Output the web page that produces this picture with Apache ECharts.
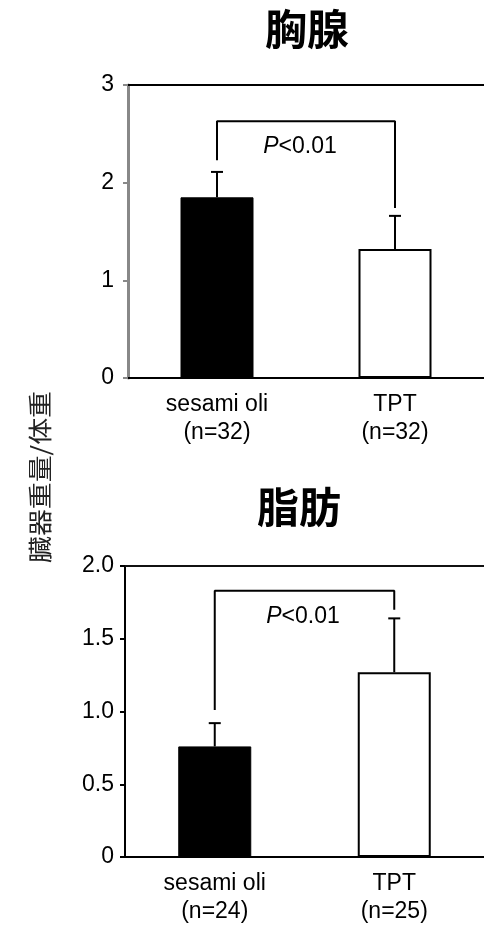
<!DOCTYPE html>
<html>
<head>
<meta charset="utf-8">
<script src="https://cdn.jsdelivr.net/npm/echarts@6/dist/echarts.min.js"></script>
<style>
html,body{margin:0;padding:0;background:#fff;}
#main{width:484px;height:929px;}
</style>
</head>
<body>
<div id="main"></div>
<script>
// ---- data ----
var categoriesThymus = ['sesami oli\n(n=32)', 'TPT\n(n=32)'];
var categoriesFat = ['sesami oli\n(n=24)', 'TPT\n(n=25)'];
var thymusMean = [1.85, 1.32];
var thymusSD = [0.26, 0.34];
var fatMean = [0.76, 1.27];
var fatSD = [0.16, 0.37];
// bracket: [left foot, top, right foot]
var thymusBracket = [2.23, 2.63, 1.74];
var fatBracket = [1.01, 1.83, 1.70];
var thymusTicks = ['0', '1', '2', '3'];
var fatTicks = ['0', '0.5', '1.0', '1.5', '2.0'];
var titles = ['胸腺', '脂肪'];
var yName = '臓器重量/体重';
var pText = 'P<0.01';

var FONT = '"Liberation Sans", Arial, sans-serif';
var CJK = '"Noto Sans CJK JP", sans-serif';
var FS = 23;

var chart = echarts.init(document.getElementById('main'), null, {renderer: 'canvas'});

function barData(vals) {
  return vals.map(function (v, i) {
    return i === 0
      ? {value: v, itemStyle: {color: '#000', borderColor: '#000', borderWidth: 1}}
      : {value: v, itemStyle: {color: '#fff', borderColor: '#000', borderWidth: 2}};
  });
}
function errData(mean, sd) {
  return mean.map(function (m, i) { return [i, m, sd[i]]; });
}
function bracketData(b) {
  return [[0, b[0]], [0, b[1]], [1, b[1]], [1, b[2]]];
}
function renderErr(params, api) {
  var x = api.value(0), m = api.value(1), s = api.value(2);
  var p0 = api.coord([x, m]);
  var p1 = api.coord([x, m + s]);
  var st = {stroke: '#000', lineWidth: 2};
  return {
    type: 'group',
    children: [
      {type: 'line', shape: {x1: p0[0], y1: p0[1], x2: p1[0], y2: p1[1]}, style: st},
      {type: 'line', shape: {x1: p1[0] - 6, y1: p1[1], x2: p1[0] + 6, y2: p1[1]}, style: st}
    ]
  };
}

var labelStyle = {color: '#000', fontFamily: FONT, fontSize: FS};

function topBorderAxis(gi, data, color) {
  return {type: 'category', gridIndex: gi, data: data, position: 'top',
    axisLine: {show: true, lineStyle: {color: color, width: 2}},
    axisTick: {show: false}, axisLabel: {show: false}, splitLine: {show: false}};
}

var option = {
  animation: false,
  backgroundColor: '#fff',
  grid: [
    {left: 128, top: 85, width: 363, height: 293},
    {left: 125, top: 566, width: 360, height: 291}
  ],
  xAxis: [
    {type: 'category', gridIndex: 0, data: categoriesThymus,
     axisLine: {show: true, lineStyle: {color: '#000', width: 2}},
     axisTick: {show: false},
     axisLabel: Object.assign({margin: 13, lineHeight: 28, interval: 0}, labelStyle)},
    {type: 'category', gridIndex: 1, data: categoriesFat,
     axisLine: {show: true, lineStyle: {color: '#000', width: 2}},
     axisTick: {show: false},
     axisLabel: Object.assign({margin: 13, lineHeight: 28, interval: 0}, labelStyle)},
    topBorderAxis(0, categoriesThymus, '#000'),
    topBorderAxis(1, categoriesFat, '#111')
  ],
  yAxis: [
    {type: 'value', gridIndex: 0, min: 0, max: 3, interval: 1,
     axisLine: {show: true, lineStyle: {color: '#888', width: 3}},
     axisTick: {show: true, length: 5, lineStyle: {color: '#888', width: 2}},
     splitLine: {show: false},
     axisLabel: Object.assign({margin: 14, formatter: function (v) { return thymusTicks[Math.round(v)]; }}, labelStyle)},
    {type: 'value', gridIndex: 1, min: 0, max: 2, interval: 0.5,
     axisLine: {show: true, lineStyle: {color: '#000', width: 2}},
     axisTick: {show: true, length: 5, lineStyle: {color: '#000', width: 2}},
     splitLine: {show: false},
     axisLabel: Object.assign({margin: 11, formatter: function (v) { return fatTicks[Math.round(v * 2)]; }}, labelStyle)}
  ],
  series: [
    {type: 'bar', xAxisIndex: 0, yAxisIndex: 0, barWidth: 73, data: barData(thymusMean), z: 2},
    {type: 'custom', xAxisIndex: 0, yAxisIndex: 0, renderItem: renderErr, data: errData(thymusMean, thymusSD), z: 3},
    {type: 'line', xAxisIndex: 0, yAxisIndex: 0, data: bracketData(thymusBracket), symbol: 'none',
     lineStyle: {color: '#000', width: 2}, z: 3},
    {type: 'bar', xAxisIndex: 1, yAxisIndex: 1, barWidth: 73, data: barData(fatMean), z: 2},
    {type: 'custom', xAxisIndex: 1, yAxisIndex: 1, renderItem: renderErr, data: errData(fatMean, fatSD), z: 3},
    {type: 'line', xAxisIndex: 1, yAxisIndex: 1, data: bracketData(fatBracket), symbol: 'none',
     lineStyle: {color: '#000', width: 2}, z: 3}
  ],
  graphic: [
    {type: 'text', x: 307, y: 29, style: {text: titles[0], font: 'bold 42px ' + CJK, fill: '#000', textAlign: 'center', textVerticalAlign: 'middle'}},
    {type: 'text', x: 299, y: 507, style: {text: titles[1], font: 'bold 42px ' + CJK, fill: '#000', textAlign: 'center', textVerticalAlign: 'middle'}},
    {type: 'text', x: 40, y: 477, rotation: Math.PI / 2, scaleX: 1.12,
     style: {text: yName, font: '24px ' + CJK, fill: '#222', textAlign: 'center', textVerticalAlign: 'middle'}},
    {type: 'text', x: 300, y: 147,
     style: {text: '{i|P}{n|' + pText.slice(1) + '}', textAlign: 'center', textVerticalAlign: 'middle',
       rich: {i: {fontFamily: FONT, fontSize: FS, fontStyle: 'italic', fill: '#000'},
              n: {fontFamily: FONT, fontSize: FS, fill: '#000'}}}},
    {type: 'text', x: 303, y: 617,
     style: {text: '{i|P}{n|' + pText.slice(1) + '}', textAlign: 'center', textVerticalAlign: 'middle',
       rich: {i: {fontFamily: FONT, fontSize: FS, fontStyle: 'italic', fill: '#000'},
              n: {fontFamily: FONT, fontSize: FS, fill: '#000'}}}}
  ]
};
chart.setOption(option);
</script>
</body>
</html>
